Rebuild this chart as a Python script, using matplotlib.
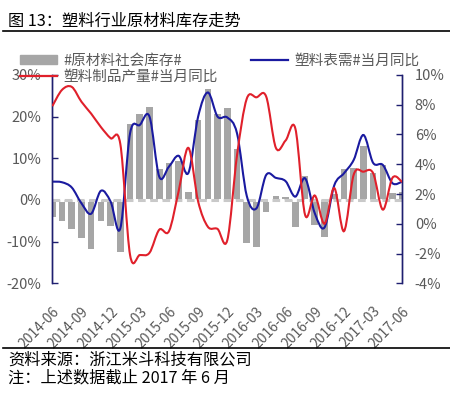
import matplotlib
matplotlib.use('Agg')
import matplotlib.pyplot as plt
from matplotlib.path import Path
from matplotlib.patches import PathPatch
from matplotlib.lines import Line2D
import numpy as np

plt.rcParams['font.family'] = ['Noto Sans CJK SC', 'DejaVu Sans']

# monthly data, 2014-06 .. 2017-06
months = ['2014-06', '2014-07', '2014-08', '2014-09', '2014-10', '2014-11', '2014-12',
          '2015-01', '2015-02', '2015-03', '2015-04', '2015-05', '2015-06', '2015-07',
          '2015-08', '2015-09', '2015-10', '2015-11', '2015-12', '2016-01', '2016-02',
          '2016-03', '2016-04', '2016-05', '2016-06', '2016-07', '2016-08', '2016-09',
          '2016-10', '2016-11', '2016-12', '2017-01', '2017-02', '2017-03', '2017-04',
          '2017-05', '2017-06']

# 原材料社会库存 (left axis, %)
inventory = [-4.0, -5.0, -7.0, -9.1, -11.7, -5.0, -6.2, -12.4, 18.2, 20.7, 22.4, 7.4,
             8.8, 9.4, 2.0, 19.1, 26.6, 20.7, 22.0, 12.2, -10.4, -11.2, -3.0, 1.0,
             0.7, -6.4, 5.8, -6.0, -8.8, 1.5, 7.4, 7.7, 13.0, 6.5, 8.4, 1.7, 2.0]

# 塑料表需 当月同比 (left axis, %)
demand = [4.4, 4.25, 3.0, -0.8, -3.3, 2.2, -0.4, -6.8, 16.0, 18.0, 20.0, 5.6,
          8.0, 10.6, 6.5, 20.0, 25.8, 20.0, 19.8, 16.0, 1.0, -2.0, 6.0, 5.3,
          4.5, 0.8, 5.2, -3.2, -6.6, 3.5, 6.4, 9.6, 15.6, 8.9, 8.4, 4.0, 4.4]

# 塑料制品产量 当月同比 (right axis, %)
output = [7.9, 9.0, 9.2, 8.2, 7.4, 6.5, 5.75, 5.35, -2.1, -2.1, -1.95, -0.4,
          -0.5, 2.2, 5.1, 1.5, -0.2, -0.35, -1.1, 4.6, 8.4, 8.5, 8.55, 5.1,
          5.6, 6.4, 0.6, 1.9, 0.0, 2.4, -0.5, 3.3, 3.5, 3.4, 0.95, 3.1, 2.8]

left_ticks = [-20, -10, 0, 10, 20, 30]
right_ticks = [-4, -2, 0, 2, 4, 6, 8, 10]


def smooth_path(xs, ys):
    # excel-like smoothed line: bezier segments with catmull-rom control points
    pts = np.column_stack([xs, ys]).astype(float)
    verts = [pts[0]]
    codes = [Path.MOVETO]
    n = len(pts)
    for i in range(n - 1):
        p0 = pts[max(i - 1, 0)]
        p1 = pts[i]
        p2 = pts[i + 1]
        p3 = pts[min(i + 2, n - 1)]
        verts += [p1 + (p2 - p0) / 6.0, p2 - (p3 - p1) / 6.0, p2]
        codes += [Path.CURVE4] * 3
    return Path(verts, codes)


fig = plt.figure(figsize=(4.5, 3.94), dpi=100)
ax = fig.add_axes([0.1162, 0.281, 0.7778, 0.5287])
ax2 = ax.twinx()

x = np.arange(len(months))
navy = '#1F1F70'
grey_txt = '#595959'

ax.bar(x, inventory, width=0.68, color='#A6A6A6', zorder=1)
ax.axhline(0, color='#C9C9C9', lw=2.2, ls=(0, (2.5, 1.5)), gapcolor='white', zorder=2)
ax.add_patch(PathPatch(smooth_path(x, demand), fill=False, edgecolor='#1A1AA0', lw=1.5, zorder=3))
ax2.add_patch(PathPatch(smooth_path(x, output), fill=False, edgecolor='#E0202B', lw=1.5, zorder=3))

ax.set_xlim(0, 36)
ax.set_ylim(-20, 30)
ax2.set_ylim(-4, 10)

ax.set_yticks(left_ticks)
ax.set_yticklabels([f'{v}%' for v in left_ticks])
ax2.set_yticks(right_ticks)
ax2.set_yticklabels([f'{v}%' for v in right_ticks])
ax.set_xticks(x[::3])
ax.set_xticklabels(months[::3], rotation=46, ha='right', rotation_mode='anchor')

for a in (ax, ax2):
    for s in ('top', 'bottom'):
        a.spines[s].set_visible(False)
    a.spines['left'].set_color(navy)
    a.spines['right'].set_color(navy)
    a.spines['left'].set_linewidth(1.0)
    a.spines['right'].set_linewidth(1.0)

ax.tick_params(axis='y', direction='in', length=4, width=1.0, color=navy,
               labelsize=10.5, labelcolor=grey_txt, pad=8)
ax2.tick_params(axis='y', direction='in', length=4, width=1.0, color=navy,
                labelsize=10.5, labelcolor=grey_txt, pad=9)
ax.tick_params(axis='x', length=0, labelsize=10, labelcolor=grey_txt, pad=15)

handles = [plt.Rectangle((0, 0), 1, 1, color='#A6A6A6'),
           Line2D([], [], color='#E0202B', lw=1.6),
           Line2D([], [], color='#1A1AA0', lw=1.6)]
labels = ['#原材料社会库存#', '塑料制品产量#当月同比', '塑料表需#当月同比']
fig.legend(handles, labels, ncol=2, frameon=False, loc='upper left',
           bbox_to_anchor=(0.022, 0.89), fontsize=10.5, labelcolor=grey_txt,
           handlelength=2.5, handleheight=0.5, handletextpad=0.45,
           columnspacing=2.3, labelspacing=0.12, borderpad=0.2)

fig.text(8 / 450, 1 - 21 / 394, '图 13：塑料行业原材料库存走势', fontsize=11.7, va='center')
fig.add_artist(Line2D([3 / 450, 1], [1 - 31 / 394] * 2, color='black', lw=1.2))
fig.add_artist(Line2D([3 / 450, 1], [1 - 348 / 394] * 2, color='black', lw=1.2))
fig.text(8 / 450, 1 - 360 / 394, '资料来源：浙江米斗科技有限公司', fontsize=11.7, va='center')
fig.text(8 / 450, 1 - 378 / 394, '注：上述数据截止 2017 年 6 月', fontsize=11.7, va='center')

fig.savefig('out.png', dpi=100)
